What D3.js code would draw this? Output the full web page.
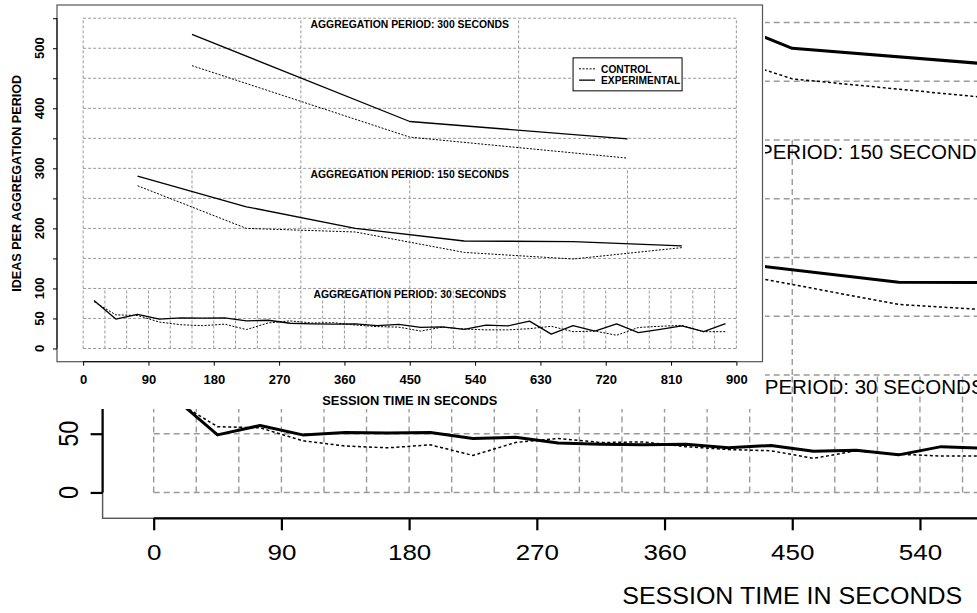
<!DOCTYPE html>
<html>
<head>
<meta charset="utf-8">
<script src="https://cdn.jsdelivr.net/npm/d3@7"></script>
<style>
    body { margin: 0; background: #fff; }
    svg { display: block; font-family: "Liberation Sans", Arial, Helvetica, sans-serif; }
</style>
</head>
<body>
<svg id="chart" width="977" height="613"></svg>
<script>
// ideas per aggregation period, midpoints of each period (seconds)
var t300 = [150, 450, 750];
var control300 = [471, 352, 317];
var experimental300 = [523, 378, 349];

var t150 = [75, 225, 375, 525, 675, 825];
var control150 = [271, 200, 194, 160, 149, 168];
var experimental150 = [287, 236, 200, 179, 178, 171];

var t30 = [15, 45, 75, 105, 135, 165, 195, 225, 255, 285, 315, 345, 375, 405, 435,
    465, 495, 525, 555, 585, 615, 645, 675, 705, 735, 765, 795, 825, 855, 885];
var control30 = [78, 56, 55, 44, 39.5, 38, 40.5, 31.5, 42.5, 46, 42.5, 43, 39, 36.5, 35.5,
    29, 35.5, 32.5, 31, 31, 33, 37, 28, 29, 22, 35, 37, 38.5, 28, 28];
var experimental30 = [80, 49, 57, 49, 51, 50.5, 51, 46, 47, 42, 41, 40.5, 41, 38, 40,
    35, 36, 32, 39, 37.5, 45.5, 24, 38, 29, 41, 26.5, 32, 37.5, 28, 41.5];

// axes
var xTicks = [0, 90, 180, 270, 360, 450, 540, 630, 720, 810, 900];
var yTicks = [0, 50, 100, 150, 200, 250, 300, 350, 400, 450, 500, 550];
var yLabels = [0, 50, 100, 200, 300, 400, 500];

// panels: label, grid step (s), lower / upper value
var panelLabels = ["AGGREGATION PERIOD: 300 SECONDS", "AGGREGATION PERIOD: 150 SECONDS", "AGGREGATION PERIOD: 30 SECONDS"];
var panelSteps = [300, 150, 30];
var panelLow = [300, 100, 0];
var panelHigh = [550, 300, 100];
var panelLabelAt = [540, 290, 90];

var legendLabels = ["CONTROL", "EXPERIMENTAL"];

var series = [
    {t: t300, control: control300, experimental: experimental300},
    {t: t150, control: control150, experimental: experimental150},
    {t: t30, control: control30, experimental: experimental30}
];

var FONT = '"Liberation Sans", Arial, Helvetica, sans-serif';
var svg = d3.select("#chart");

function drawPlot(g, o) {
    var x = d3.scaleLinear().domain([-36, 936]).range(o.xRange);
    var y = d3.scaleLinear().domain([-22, 572]).range(o.yRange);
    var x0 = x(0), x1 = x(900);

    // dashed grid
    var grid = g.append("g")
        .attr("fill", "none")
        .attr("stroke", o.gridColor)
        .attr("stroke-width", o.gridWidth)
        .attr("stroke-dasharray", o.gridDash);
    grid.selectAll(".hgrid").data(yTicks).join("line")
        .attr("class", "hgrid")
        .attr("x1", x0).attr("x2", x1)
        .attr("y1", d => y(d)).attr("y2", d => y(d));
    panelSteps.forEach(function (step, i) {
        var xs = d3.range(0, 901, step);
        grid.selectAll(".vgrid" + i).data(xs).join("line")
            .attr("class", "vgrid" + i)
            .attr("x1", d => x(d)).attr("x2", d => x(d))
            .attr("y1", y(panelLow[i])).attr("y2", y(panelHigh[i]));
    });

    // panel titles
    g.selectAll(".ptitle").data(panelLabels).join("text")
        .attr("class", "ptitle")
        .attr("x", x(450) + o.panelShift)
        .attr("y", (d, i) => y(panelLabelAt[i]))
        .attr("dy", "0.36em")
        .attr("text-anchor", "middle")
        .attr("font-size", o.panelFont)
        .attr("font-weight", o.weight)
        .text(d => d);

    // lines
    var line = d3.line().x(d => x(d[0])).y(d => y(d[1]));
    series.forEach(function (s) {
        g.append("path")
            .datum(d3.zip(s.t, s.control))
            .attr("d", line)
            .attr("fill", "none")
            .attr("stroke", "#000")
            .attr("stroke-width", o.dotWidth)
            .attr("stroke-dasharray", o.dotDash);
        g.append("path")
            .datum(d3.zip(s.t, s.experimental))
            .attr("d", line)
            .attr("fill", "none")
            .attr("stroke", "#000")
            .attr("stroke-width", o.solidWidth)
            .attr("stroke-linejoin", "round");
    });

    // box
    g.append("rect")
        .attr("x", o.xRange[0]).attr("y", o.yRange[1])
        .attr("width", o.xRange[1] - o.xRange[0])
        .attr("height", o.yRange[0] - o.yRange[1])
        .attr("fill", "none")
        .attr("stroke", o.boxColor)
        .attr("stroke-width", o.boxWidth);

    // x axis
    var bottom = o.yRange[0];
    var xAxis = g.append("g")
        .attr("transform", "translate(0," + bottom + ")")
        .call(d3.axisBottom(x).tickValues(xTicks).tickSize(o.tickLen).tickPadding(o.xPad).tickSizeOuter(0))
        .attr("font-family", FONT);
    xAxis.select(".domain").remove();
    xAxis.append("line")
        .attr("x1", x0).attr("x2", x1)
        .attr("stroke", "#000").attr("stroke-width", o.axisWidth);
    xAxis.selectAll(".tick line").attr("stroke-width", o.axisWidth);
    xAxis.selectAll("text")
        .attr("font-size", o.tickFont)
        .attr("font-weight", o.weight)
        .attr("fill", "#000")
        .attr("transform", "scale(" + o.stretch + ",1)");

    // y axis
    var left = o.xRange[0];
    var yAxis = g.append("g")
        .attr("transform", "translate(" + left + ",0)")
        .call(d3.axisLeft(y).tickValues(yTicks).tickSize(o.tickLen).tickFormat("").tickSizeOuter(0));
    yAxis.select(".domain").remove();
    yAxis.append("line")
        .attr("y1", y(0)).attr("y2", y(550))
        .attr("stroke", "#000").attr("stroke-width", o.axisWidth);
    yAxis.selectAll(".tick line").attr("stroke-width", o.axisWidth);

    g.selectAll(".ylab").data(yLabels).join("text")
        .attr("class", "ylab")
        .attr("transform", d => "translate(" + o.yLabelX + "," + y(d) + ") scale(" + o.yStretch + ",1) rotate(-90)")
        .attr("dy", "0.36em")
        .attr("text-anchor", "middle")
        .attr("font-size", o.yTickFont)
        .attr("font-weight", o.weight)
        .text(d => d);

    // axis titles
    g.append("text")
        .attr("x", x(450))
        .attr("y", bottom + o.xTitleOffset)
        .attr("text-anchor", "middle")
        .attr("font-size", o.titleFont)
        .attr("font-weight", o.weight)
        .attr("textLength", o.xTitleLength)
        .attr("lengthAdjust", "spacingAndGlyphs")
        .text("SESSION TIME IN SECONDS");
    g.append("text")
        .attr("transform", "translate(" + o.yTitleX + "," + (o.yRange[0] + o.yRange[1]) / 2 + ") rotate(-90)")
        .attr("dy", "0.36em")
        .attr("text-anchor", "middle")
        .attr("font-size", o.titleFont)
        .attr("font-weight", o.weight)
        .text("IDEAS PER AGGREGATION PERIOD");

    // legend
    if (o.legend) {
        var lg = g.append("g")
            .attr("transform", "translate(" + x(675) + "," + y(484) + ")");
        lg.append("rect")
            .attr("width", 109).attr("height", 33)
            .attr("fill", "#fff").attr("stroke", "#000").attr("stroke-width", 1);
        lg.selectAll(".litem").data(legendLabels).join("g")
            .attr("class", "litem")
            .attr("transform", (d, i) => "translate(0," + (11 + i * 11.3) + ")")
            .each(function (d, i) {
                var it = d3.select(this);
                it.append("line")
                    .attr("x1", 6).attr("x2", 22)
                    .attr("stroke", "#000")
                    .attr("stroke-width", i ? o.solidWidth : o.dotWidth)
                    .attr("stroke-dasharray", i ? null : o.dotDash);
                it.append("text")
                    .attr("x", 28).attr("dy", "0.36em")
                    .attr("font-size", o.legendFont)
                    .attr("font-weight", "bold")
                    .text(d);
            });
    }
}

// large copy behind
drawPlot(svg.append("g"), {
    xRange: [102.6, 1481.9], yRange: [518.3, -179.6],
    gridColor: "#9a9a9a", gridWidth: 1.4, gridDash: "6,4",
    dotWidth: 1.5, dotDash: "3,2.5", solidWidth: 3,
    boxColor: "#555", boxWidth: 1.4, axisWidth: 2.2,
    tickLen: 12, xPad: 14.5, tickFont: 22, stretch: 1.18,
    yLabelX: 68, yTickFont: 23.5, yStretch: 1.15,
    panelFont: 20.5, panelShift: 4, weight: "normal",
    titleFont: 23.3, xTitleOffset: 86, xTitleLength: 340, yTitleX: 22,
    legend: false
});

// cover for the small plot
svg.append("rect")
    .attr("x", 0).attr("y", 0)
    .attr("width", 765).attr("height", 409)
    .attr("fill", "#fff");

// small plot in front
drawPlot(svg.append("g"), {
    xRange: [57, 762.5], yRange: [361.7, 5],
    gridColor: "#8c8c8c", gridWidth: 0.9, gridDash: "3,2",
    dotWidth: 1, dotDash: "2,1.5", solidWidth: 1.3,
    boxColor: "#555", boxWidth: 1.2, axisWidth: 1,
    tickLen: 4, xPad: 8.6, tickFont: 13, stretch: 1,
    yLabelX: 39.5, yTickFont: 13, yStretch: 1,
    panelFont: 10.4, panelShift: 0, weight: "bold",
    titleFont: 12.6, xTitleOffset: 43, xTitleLength: 175, yTitleX: 16,
    legend: true, legendFont: 10.2
});
</script>
</body>
</html>
